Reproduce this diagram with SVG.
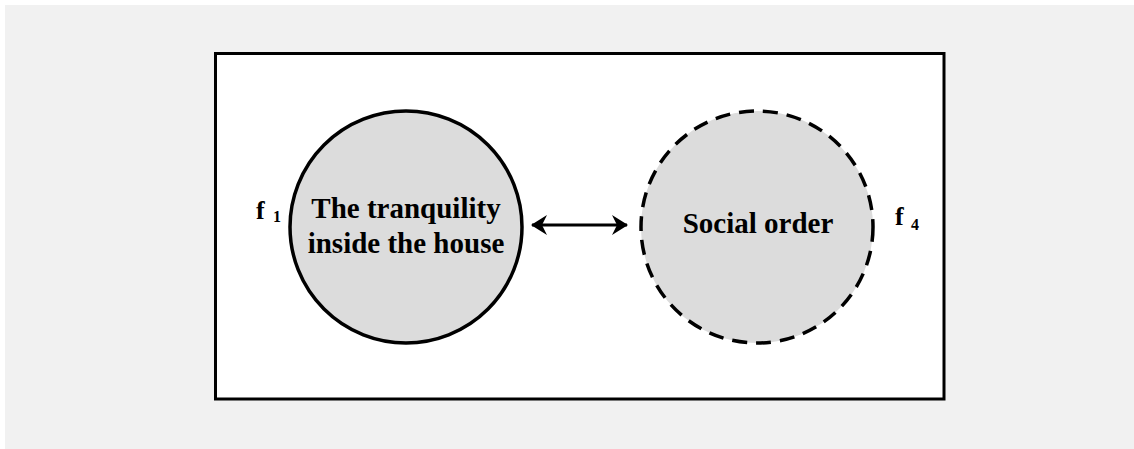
<svg xmlns="http://www.w3.org/2000/svg" width="1134" height="449" viewBox="0 0 1134 449">
<defs>
<style>
.lbl{font-family:"Liberation Serif","Times New Roman",serif;font-weight:bold;fill:#000;}
.node{fill:#dcdcdc;stroke:#000;stroke-width:3.5;}
</style>
<marker id="ah" viewBox="0 0 16 20" refX="15" refY="10" markerWidth="16" markerHeight="20" markerUnits="userSpaceOnUse" orient="auto-start-reverse">
<path d="M0,0 L16,10 L0,20 L5,10 Z" fill="#000"/>
</marker>
</defs>
<rect x="0" y="0" width="1134" height="449" fill="#fff"/>
<rect x="5" y="5" width="1129" height="444" fill="#f1f1f1"/>
<rect x="215.5" y="53.5" width="728.5" height="345.5" fill="#fff" stroke="#000" stroke-width="3"/>
<g id="connectors">
<line x1="532" y1="225" x2="627" y2="225" stroke="#000" stroke-width="3" marker-start="url(#ah)" marker-end="url(#ah)"/>
</g>
<g id="node-tranquility">
<circle class="node" cx="406" cy="227" r="116"/>
<text class="lbl" x="406" y="218" font-size="29" text-anchor="middle">The tranquility</text>
<text class="lbl" x="406" y="253" font-size="29" text-anchor="middle">inside the house</text>
</g>
<g id="label-f1">
<text class="lbl" x="256" y="219" font-size="26">f</text>
<text class="lbl" x="273" y="222" font-size="16">1</text>
</g>
<g id="node-social">
<circle class="node" cx="757" cy="227" r="116" stroke-dasharray="15 9"/>
<text class="lbl" x="758" y="233" font-size="29" text-anchor="middle">Social order</text>
</g>
<g id="label-f4">
<text class="lbl" x="895" y="225" font-size="26">f</text>
<text class="lbl" x="911" y="230" font-size="16">4</text>
</g>
</svg>
